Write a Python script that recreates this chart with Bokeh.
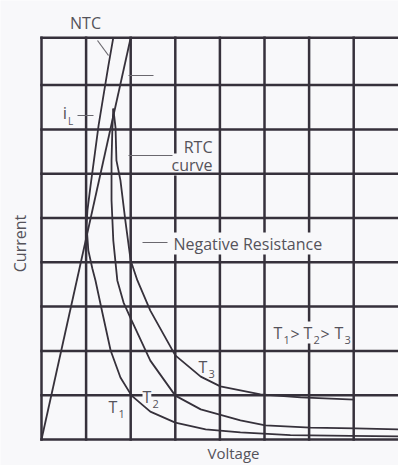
from bokeh.plotting import figure
from bokeh.models import Label, Range1d
from bokeh.core.properties import value
from bokeh.embed import file_html
from bokeh.resources import INLINE
import math

# ---- data (grid units: x = voltage divisions, y = current divisions) ----
lin_x = [0.0, 2.0]
lin_y = [0.0, 9.07]

t1_x = [1.61, 1.50, 1.39, 1.28, 1.19, 1.10, 1.03, 1.01, 1.05, 1.14, 1.21, 1.37, 1.55,
        1.77, 2.02, 2.44, 3.00, 3.68, 4.46, 5.58, 6.93, 8.00]
t1_y = [9.07, 8.44, 7.77, 7.09, 6.41, 5.73, 5.17, 4.83, 4.27, 3.86, 3.59, 2.84, 2.01,
        1.40, 0.99, 0.63, 0.38, 0.23, 0.16, 0.10, 0.08, 0.07]

t2_x = [1.61, 1.59, 1.57, 1.57, 1.61, 1.70, 1.84, 2.02, 2.44, 3.00, 3.57, 4.46, 5.02,
        6.03, 7.04, 8.00]
t2_y = [7.47, 7.04, 6.30, 5.40, 4.49, 3.59, 3.09, 2.69, 1.78, 0.99, 0.68, 0.43, 0.32,
        0.27, 0.25, 0.23]

t3_x = [1.61, 1.66, 1.68, 1.77, 1.88, 2.00, 2.15, 2.44, 3.00, 3.57, 4.01, 4.91, 5.81, 7.02]
t3_y = [7.47, 7.04, 6.30, 5.85, 4.94, 4.04, 3.59, 2.91, 1.90, 1.42, 1.20, 1.02, 0.95, 0.90]

x_ticks = [0, 1, 2, 3, 4, 5, 6, 7]
y_ticks = [0, 1, 2, 3, 4, 5, 6, 7, 8, 9.07]
grid_top = 9.07
grid_right = 8.2

INK = "#36313b"
TXT = "#55535a"
BG = "#f8f8fa"
FONT = "Open Sans"

# reference-pixel helpers for annotation placement
SX, SY, X0, Y0 = 44.6, 44.3, 41.0, 439.0
def dx(px):
    return (px - X0) / SX
def dy(py):
    return (Y0 - py) / SY

p = figure(width=398, height=465, output_backend="svg", toolbar_location=None,
           x_range=Range1d(dx(0), dx(398)), y_range=Range1d(dy(465), dy(0)),
           min_border=0, min_border_left=0, min_border_right=0,
           min_border_top=0, min_border_bottom=0)
p.background_fill_color = BG
p.border_fill_color = BG
p.outline_line_color = None
p.xaxis.visible = False
p.yaxis.visible = False
p.xgrid.visible = False
p.ygrid.visible = False

def txt(px, py, t, size="16px", align="center"):
    # text glyph with a page-coloured box, drawn in call order
    p.text(x=[dx(px)], y=[dy(py)], text=[t], text_font=value(FONT),
           text_font_size=value(size), text_color=TXT, text_align=align,
           text_baseline="middle", background_fill_color=BG)

def lab(px, py, t, size="16px", align="center", angle=0.0):
    p.add_layout(Label(x=dx(px), y=dy(py), text=t, text_font=FONT, text_font_size=size,
                       text_color=TXT, text_align=align, text_baseline="middle",
                       angle=angle))

# vertical grid lines
p.segment(x0=x_ticks, y0=[0] * len(x_ticks), x1=x_ticks, y1=[grid_top] * len(x_ticks),
          line_color=INK, line_width=2.5, line_cap="square")
# "curve" interrupts only the vertical line behind it
txt(212, 164, "curve", align="right")
# horizontal grid lines
p.segment(x0=[0] * len(y_ticks), y0=y_ticks, x1=[grid_right] * len(y_ticks), y1=y_ticks,
          line_color=INK, line_width=2.5, line_cap="square")

# texts sitting on the grid
txt(173, 243, "Negative Resistance", align="left")
for tl, dl, d in ((273, 283, "1"), (303, 313, "2"), (334, 344, "3")):
    txt(tl, 332, "T", align="left")
    txt(dl, 339, d, size="11px", align="left")
txt(290, 333, ">", align="left")
txt(320, 333, ">", align="left")
txt(142, 396, "T", align="left")
txt(152, 403, "2", size="11px", align="left")

for xs, ys in ((lin_x, lin_y), (t1_x, t1_y), (t2_x, t2_y), (t3_x, t3_y)):
    p.line(xs, ys, line_color=INK, line_width=1.8, line_join="round")

# pointer lines (reference pixel endpoints)
pointers = [
    ((97, 108), (40, 55)),     # NTC
    ((128, 153), (75, 75)),    # unlabeled
    ((77, 93), (115, 115)),    # iL
    ((128, 172), (155, 155)),  # RTC curve
    ((142, 167), (242, 242)),  # negative resistance
]
for xs, ys in pointers:
    p.line([dx(v) for v in xs], [dy(v) for v in ys], line_color="#6a686e", line_width=1.2)

lab(85, 22, "NTC")
lab(64.5, 112, "i", size="17px")
lab(70, 120, "L", size="10px")
lab(212, 146, "RTC", align="right")
lab(19, 243, "Current", angle=math.pi / 2)
lab(233, 452, "Voltage", size="15px")
for tl, dl, cy, d in ((198, 208, 366, "3"), (108, 118, 406, "1")):
    lab(tl, cy, "T", align="left")
    lab(dl, cy + 7, d, size="11px", align="left")

open("out.html", "w").write(file_html(p, INLINE))
